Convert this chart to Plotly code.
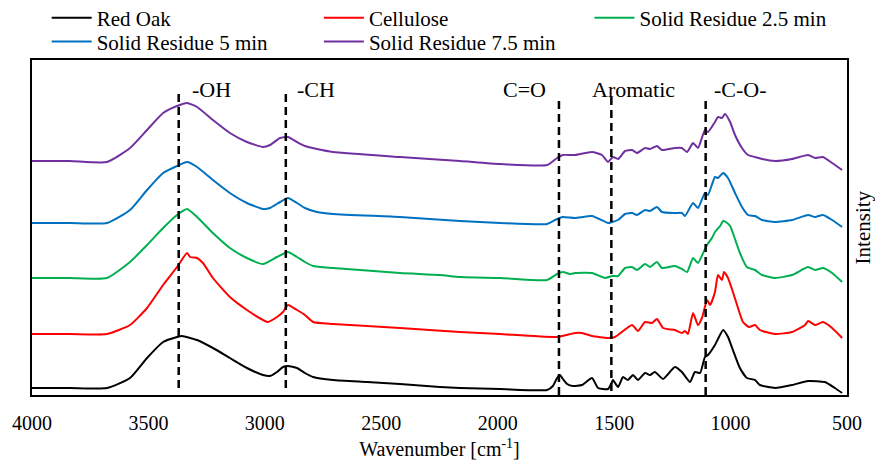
import plotly.graph_objects as go

# ---------------- data ----------------
red_oak_wn = [4000, 3837, 3678, 3579, 3506, 3437, 3377, 3356, 3291, 3223, 3150, 3077, 3008, 2978, 2948, 2922, 2901, 2862, 2828, 2793, 2707, 2561, 2420, 2248, 2162, 1990, 1788, 1763, 1745, 1733, 1720, 1702, 1677, 1638, 1595, 1569, 1526, 1509, 1505, 1483, 1462, 1441, 1419, 1398, 1367, 1346, 1325, 1290, 1239, 1209, 1174, 1153, 1131, 1110, 1097, 1067, 1032, 1011, 990, 960, 930, 895, 874, 809, 736, 667, 595, 552, 521]
red_oak_int = [7, 7, 7, 17, 37, 53, 58, 59, 55, 47, 37, 27, 20, 19, 23, 28, 29, 27, 22, 18, 15, 13, 11, 8, 7, 6, 5, 9, 17, 20, 16, 11, 9, 10, 17, 7, 6, 13, 15, 8, 18, 15, 20, 15, 22, 20, 23, 16, 28, 23, 13, 23, 22, 38, 40, 50, 65, 58, 45, 27, 17, 15, 10, 7, 10, 14, 13, 7, 2]

cellulose_wn = [4000, 3837, 3678, 3579, 3506, 3437, 3377, 3334, 3321, 3291, 3266, 3223, 3150, 3077, 3008, 2987, 2948, 2922, 2901, 2862, 2828, 2793, 2707, 2420, 2162, 1990, 1745, 1668, 1638, 1595, 1526, 1496, 1423, 1398, 1367, 1337, 1316, 1290, 1239, 1209, 1196, 1183, 1161, 1140, 1123, 1101, 1088, 1067, 1054, 1037, 1028, 1011, 990, 968, 947, 921, 895, 874, 809, 736, 680, 667, 637, 603, 564, 521]
cellulose_int = [61, 61, 61, 70, 87, 110, 128, 142, 138, 137, 132, 117, 98, 85, 75, 73, 78, 83, 90, 85, 80, 73, 71, 67, 63, 61, 58, 62, 62, 59, 57, 58, 70, 64, 73, 72, 76, 67, 65, 62, 64, 61, 82, 70, 77, 95, 90, 103, 120, 115, 123, 117, 103, 87, 73, 68, 70, 65, 61, 63, 70, 74, 70, 73, 67, 57]

sr25_wn = [4000, 3837, 3678, 3579, 3506, 3437, 3377, 3334, 3291, 3223, 3150, 3077, 3008, 2948, 2901, 2862, 2828, 2793, 2707, 2420, 2248, 2162, 1990, 1788, 1745, 1720, 1690, 1668, 1595, 1539, 1509, 1483, 1453, 1423, 1402, 1367, 1346, 1316, 1295, 1239, 1209, 1187, 1161, 1140, 1118, 1101, 1080, 1067, 1045, 1032, 1020, 1002, 990, 960, 930, 895, 865, 809, 736, 667, 637, 603, 564, 521]
sr25_int = [117, 117, 117, 133, 150, 167, 180, 186, 178, 162, 147, 137, 131, 138, 143, 138, 133, 129, 127, 122, 120, 118, 117, 115, 121, 123, 121, 122, 122, 117, 119, 119, 127, 128, 125, 131, 128, 133, 127, 129, 126, 123, 137, 132, 142, 150, 157, 163, 169, 174, 173, 169, 162, 142, 128, 125, 120, 117, 120, 128, 125, 127, 122, 113]

sr5_wn = [4000, 3837, 3678, 3579, 3506, 3437, 3377, 3334, 3291, 3223, 3150, 3077, 3008, 2978, 2935, 2901, 2862, 2828, 2776, 2707, 2420, 2162, 1990, 1788, 1745, 1720, 1668, 1595, 1526, 1509, 1483, 1453, 1423, 1402, 1367, 1346, 1316, 1295, 1239, 1209, 1196, 1161, 1140, 1110, 1097, 1067, 1054, 1032, 1011, 981, 951, 925, 895, 865, 809, 736, 667, 637, 603, 564, 521]
sr5_int = [172, 172, 172, 185, 205, 222, 229, 233, 228, 215, 202, 192, 186, 187, 193, 197, 192, 187, 183, 181, 178, 174, 172, 171, 176, 178, 177, 179, 172, 173, 175, 181, 182, 180, 185, 184, 188, 183, 182, 182, 179, 192, 187, 202, 200, 218, 217, 222, 217, 202, 188, 180, 179, 175, 173, 175, 180, 178, 180, 175, 168]

sr75_wn = [4000, 3837, 3678, 3579, 3506, 3437, 3377, 3334, 3291, 3223, 3150, 3077, 3008, 2978, 2935, 2901, 2862, 2828, 2776, 2707, 2420, 2162, 1990, 1788, 1745, 1720, 1668, 1595, 1552, 1526, 1505, 1483, 1453, 1423, 1402, 1367, 1346, 1316, 1295, 1239, 1209, 1187, 1161, 1140, 1110, 1097, 1067, 1054, 1037, 1024, 1002, 981, 951, 925, 895, 865, 809, 736, 667, 637, 603, 564, 521]
sr75_int = [234, 234, 233, 247, 265, 282, 289, 292, 288, 275, 262, 253, 248, 250, 257, 258, 253, 249, 246, 243, 238, 234, 231, 230, 237, 240, 240, 243, 240, 233, 238, 236, 244, 245, 242, 247, 246, 249, 245, 247, 247, 243, 252, 247, 265, 263, 273, 278, 277, 281, 273, 260, 247, 240, 238, 236, 234, 236, 240, 237, 238, 232, 225]

series_names = ["Red Oak", "Cellulose", "Solid Residue 2.5 min", "Solid Residue 5 min", "Solid Residue 7.5 min"]
series_colors = ["#000000", "#FF0000", "#00B050", "#0070C0", "#7030A0"]
series_wn = [red_oak_wn, cellulose_wn, sr25_wn, sr5_wn, sr75_wn]
series_int = [red_oak_int, cellulose_int, sr25_int, sr5_int, sr75_int]
# legend slot of each series: (column, row)
legend_col_x = [0.018, 0.352, 0.684]
legend_row_y = [1.125, 1.054]
series_slot = [(0, 0), (1, 0), (2, 0), (0, 1), (1, 1)]

band_labels = ["-OH", "-CH", "C=O", "Aromatic", "-C-O-"]
band_wn = [3370, 2910, 1737, 1512, 1107]
band_line_bottom = [7, 7, 0, 4, 0]
band_line_top = [305, 305, 295, 298, 297]
band_label_wn = [3321, 2871, 1784, 1419, 1080]
band_label_anchor = ["left", "left", "right", "center", "left"]
band_label_y = 306

x_ticks = [4000, 3500, 3000, 2500, 2000, 1500, 1000, 500]

FONT = "Liberation Serif"

fig = go.Figure()
legend_layouts = {}
for i, (name, col, wn, it, slot) in enumerate(zip(series_names, series_colors, series_wn, series_int, series_slot)):
    lg = "legend" if i == 0 else "legend%d" % (i + 1)
    fig.add_trace(go.Scatter(
        x=wn, y=it, mode="lines", name=name, legend=lg,
        line=dict(color=col, width=2, shape="spline", smoothing=0.5),
    ))
    legend_layouts[lg] = dict(x=legend_col_x[slot[0]], y=legend_row_y[slot[1]],
                              xanchor="left", yanchor="middle", orientation="h",
                              font=dict(family=FONT, size=21, color="black"),
                              bgcolor="rgba(0,0,0,0)", borderwidth=0, itemwidth=40)

for wn, y0, y1 in zip(band_wn, band_line_bottom, band_line_top):
    fig.add_shape(type="line", xref="x", yref="y", x0=wn, x1=wn, y0=y0, y1=y1,
                  line=dict(color="black", width=2.5, dash="8px,5px"))

for lab, wn, anc in zip(band_labels, band_label_wn, band_label_anchor):
    fig.add_annotation(x=wn, y=band_label_y, xref="x", yref="y", text=lab,
                       showarrow=False, xanchor=anc, yanchor="middle",
                       font=dict(family=FONT, size=22, color="black"))

fig.add_annotation(x=1.0195, y=0.5, xref="paper", yref="paper", text="Intensity",
                   textangle=-90, showarrow=False, xanchor="center", yanchor="middle",
                   font=dict(family=FONT, size=21, color="black"))

fig.update_layout(
    width=875, height=460,
    margin=dict(l=32, r=28, t=60, b=65, autoexpand=False),
    paper_bgcolor="white", plot_bgcolor="white",
    font=dict(family=FONT, size=20, color="black"),
    showlegend=True,
    xaxis=dict(range=[4000, 500], tickvals=x_ticks, ticktext=[str(v) for v in x_ticks],
               showgrid=False, zeroline=False, showline=True, mirror=True,
               linecolor="black", linewidth=1.5, ticks="", ticklabelstandoff=9,
               tickfont=dict(family=FONT, size=20, color="black"),
               title=dict(text="Wavenumber [cm<sup>-1</sup>]", standoff=11,
                          font=dict(family=FONT, size=20, color="black"))),
    yaxis=dict(range=[0, 335], showgrid=False, zeroline=False, showline=True, mirror=True,
               linecolor="black", linewidth=1.5, ticks="", showticklabels=False),
    **legend_layouts,
)

fig.write_html("out.html")
